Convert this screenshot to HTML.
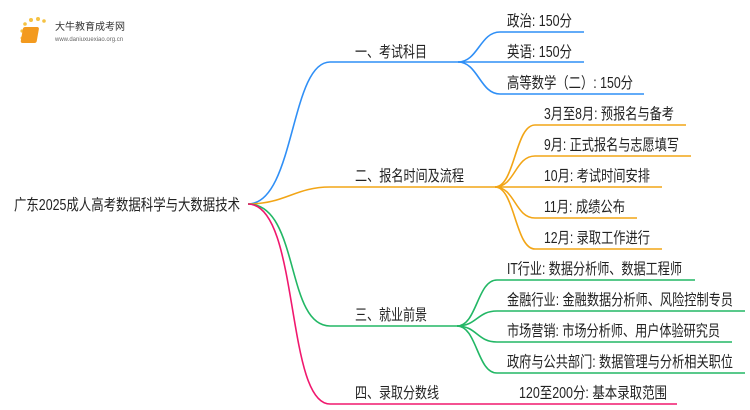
<!DOCTYPE html>
<html><head><meta charset="utf-8"><style>
html,body{margin:0;padding:0;background:#fff;}
svg{display:block;font-family:"Liberation Sans","Noto Sans CJK SC",sans-serif;}
text{font-size:15.5px;fill:#222;}
</style></head><body>
<svg width="750" height="410" viewBox="0 0 750 410" xmlns="http://www.w3.org/2000/svg">
<g>
<circle cx="22" cy="31" r="1.6" fill="#f5c242"/><circle cx="25" cy="24" r="1.8" fill="#f5c242"/><circle cx="31" cy="20" r="2" fill="#f5c242"/><circle cx="38" cy="19" r="2" fill="#f5c242"/><circle cx="44" cy="21" r="1.8" fill="#f5c242"/><circle cx="22" cy="38" r="1.5" fill="#f5c242"/>
<rect x="28" y="27" width="16" height="16" rx="2" fill="#f39a1e" transform="skewX(-10)"/>
<text x="55" y="30" style="font-size:10px;fill:#333">大牛教育成考网</text>
<text x="55" y="41" style="font-size:6px;fill:#666">www.daniuxuexiao.org.cn</text>
</g>
<text x="14" y="210" textLength="226" lengthAdjust="spacingAndGlyphs">广东2025成人高考数据科学与大数据技术</text>
<g fill="none" stroke-width="1.6">
<path d="M248 204 C295 204 290 62 330 62 L458 62" stroke="#2f8ff6"/>
<path d="M458 62 C478 62 480 32 500 32 L584 32" stroke="#2f8ff6"/>
<path d="M458 62 L584 62" stroke="#2f8ff6"/>
<path d="M458 62 C478 62 480 94 500 94 L644 94" stroke="#2f8ff6"/>
<path d="M248 204 C285 204 295 187 330 187 L495 187" stroke="#f2a516"/>
<path d="M495 187 C515 187 515 125 535 125 L686 125" stroke="#f2a516"/>
<path d="M495 187 C515 187 515 156 535 156 L691 156" stroke="#f2a516"/>
<path d="M495 187 L662 187" stroke="#f2a516"/>
<path d="M495 187 C515 187 515 218 535 218 L637 218" stroke="#f2a516"/>
<path d="M495 187 C515 187 515 249 535 249 L662 249" stroke="#f2a516"/>
<path d="M248 204 C300 204 285 326 330 326 L457 326" stroke="#22b765"/>
<path d="M457 326 C477 326 477 280 497 280 L695 280" stroke="#22b765"/>
<path d="M457 326 C477 326 477 311 497 311 L745 311" stroke="#22b765"/>
<path d="M457 326 C477 326 477 342 497 342 L732 342" stroke="#22b765"/>
<path d="M457 326 C477 326 477 373 497 373 L745 373" stroke="#22b765"/>
<path d="M248 204 C300 204 285 404 330 404 L677 404" stroke="#f0186e"/>
</g>
<g>
<text x="355" y="57" textLength="72" lengthAdjust="spacingAndGlyphs">一、考试科目</text>
<text x="355" y="181" textLength="109" lengthAdjust="spacingAndGlyphs">二、报名时间及流程</text>
<text x="355" y="320" textLength="72" lengthAdjust="spacingAndGlyphs">三、就业前景</text>
<text x="355" y="398" textLength="84" lengthAdjust="spacingAndGlyphs">四、录取分数线</text>
<text x="507" y="26" textLength="65" lengthAdjust="spacingAndGlyphs">政治: 150分</text>
<text x="507" y="57" textLength="65" lengthAdjust="spacingAndGlyphs">英语: 150分</text>
<text x="507" y="88" textLength="126" lengthAdjust="spacingAndGlyphs">高等数学（二）: 150分</text>
<text x="544" y="119" textLength="130" lengthAdjust="spacingAndGlyphs">3月至8月: 预报名与备考</text>
<text x="544" y="150" textLength="135" lengthAdjust="spacingAndGlyphs">9月: 正式报名与志愿填写</text>
<text x="544" y="181" textLength="106" lengthAdjust="spacingAndGlyphs">10月: 考试时间安排</text>
<text x="544" y="212" textLength="81" lengthAdjust="spacingAndGlyphs">11月: 成绩公布</text>
<text x="544" y="243" textLength="106" lengthAdjust="spacingAndGlyphs">12月: 录取工作进行</text>
<text x="507" y="274" textLength="175" lengthAdjust="spacingAndGlyphs">IT行业: 数据分析师、数据工程师</text>
<text x="507" y="305" textLength="226" lengthAdjust="spacingAndGlyphs">金融行业: 金融数据分析师、风险控制专员</text>
<text x="507" y="336" textLength="213" lengthAdjust="spacingAndGlyphs">市场营销: 市场分析师、用户体验研究员</text>
<text x="507" y="367" textLength="226" lengthAdjust="spacingAndGlyphs">政府与公共部门: 数据管理与分析相关职位</text>
<text x="519" y="398" textLength="148" lengthAdjust="spacingAndGlyphs">120至200分: 基本录取范围</text>
</g>
</svg>
</body></html>
